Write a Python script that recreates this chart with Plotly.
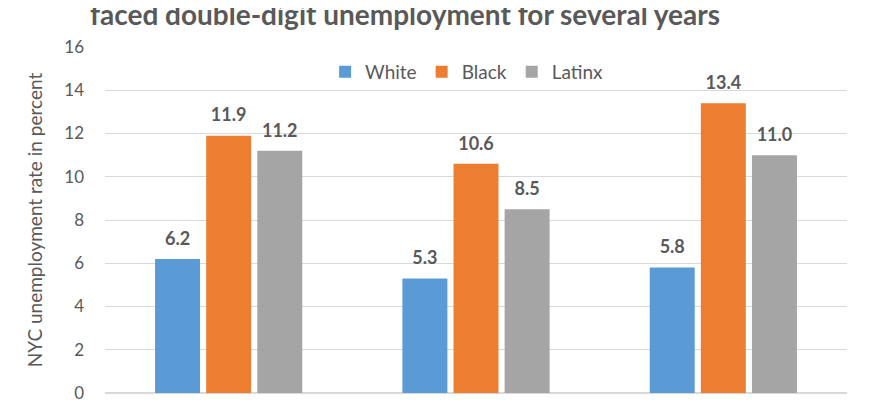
import plotly.graph_objects as go

# x labels are cut off in the source image, so these names are placeholders
periods = ["Period 1", "Period 2", "Period 3"]
white = [6.2, 5.3, 5.8]
black = [11.9, 10.6, 13.4]
latinx = [11.2, 8.5, 11.0]

series = [
    ("White", white, "#5B9BD5"),
    ("Black", black, "#ED7D31"),
    ("Latinx", latinx, "#A5A5A5"),
]

TEXT = "#595959"
FONT = "Lato"

fig = go.Figure()
for name, values, color in series:
    fig.add_trace(go.Bar(
        name=name,
        x=periods,
        y=values,
        offsetgroup=name,
        alignmentgroup="g",
        marker=dict(color=color, line=dict(width=0)),
        hoverinfo="y+name",
    ))
    # value labels, grouped like the bars so they sit above them
    fig.add_trace(go.Scatter(
        x=periods,
        y=values,
        offsetgroup=name,
        alignmentgroup="g",
        mode="markers+text",
        marker=dict(size=14, opacity=0),
        text=[f"{v:.1f}" for v in values],
        textposition="top center",
        textfont=dict(family=FONT, size=18, color=TEXT, weight="bold"),
        showlegend=False,
        hoverinfo="skip",
        cliponaxis=False,
    ))

# the page body adds 8px around the figure, margins allow for that
fig.update_layout(
    width=870,
    height=400,
    margin=dict(l=97, r=31, t=39, b=15),
    paper_bgcolor="white",
    plot_bgcolor="white",
    barmode="group",
    bargap=0.38,
    bargroupgap=0.12,
    scattermode="group",
    scattergap=0.38,
    font=dict(family=FONT, color=TEXT),
    legend=dict(
        orientation="h",
        x=0.488,
        xanchor="center",
        y=0.928,
        yanchor="middle",
        font=dict(size=19, color=TEXT),
        bgcolor="rgba(0,0,0,0)",
        itemwidth=30,
        traceorder="normal",
    ),
    xaxis=dict(showticklabels=False, showgrid=False, showline=False,
               ticks="", automargin=False),
    yaxis=dict(
        range=[0, 16],
        dtick=2,
        automargin=False,
        showgrid=True,
        gridcolor="#D9D9D9",
        gridwidth=1,
        zeroline=True,
        zerolinecolor="#D9D9D9",
        tickfont=dict(size=17, color=TEXT),
        ticklabelstandoff=20,
        title=dict(
            text="NYC unemployment rate in percent",
            font=dict(size=19, color=TEXT),
            standoff=16,
        ),
    ),
)

fig.add_annotation(
    text="<b>faced double-digit unemployment for several years</b>",
    xref="paper", yref="paper",
    x=0.404, y=1.094,
    xanchor="center", yanchor="middle",
    showarrow=False,
    font=dict(family=FONT, size=28, color=TEXT),
)

fig.write_html("out.html")
